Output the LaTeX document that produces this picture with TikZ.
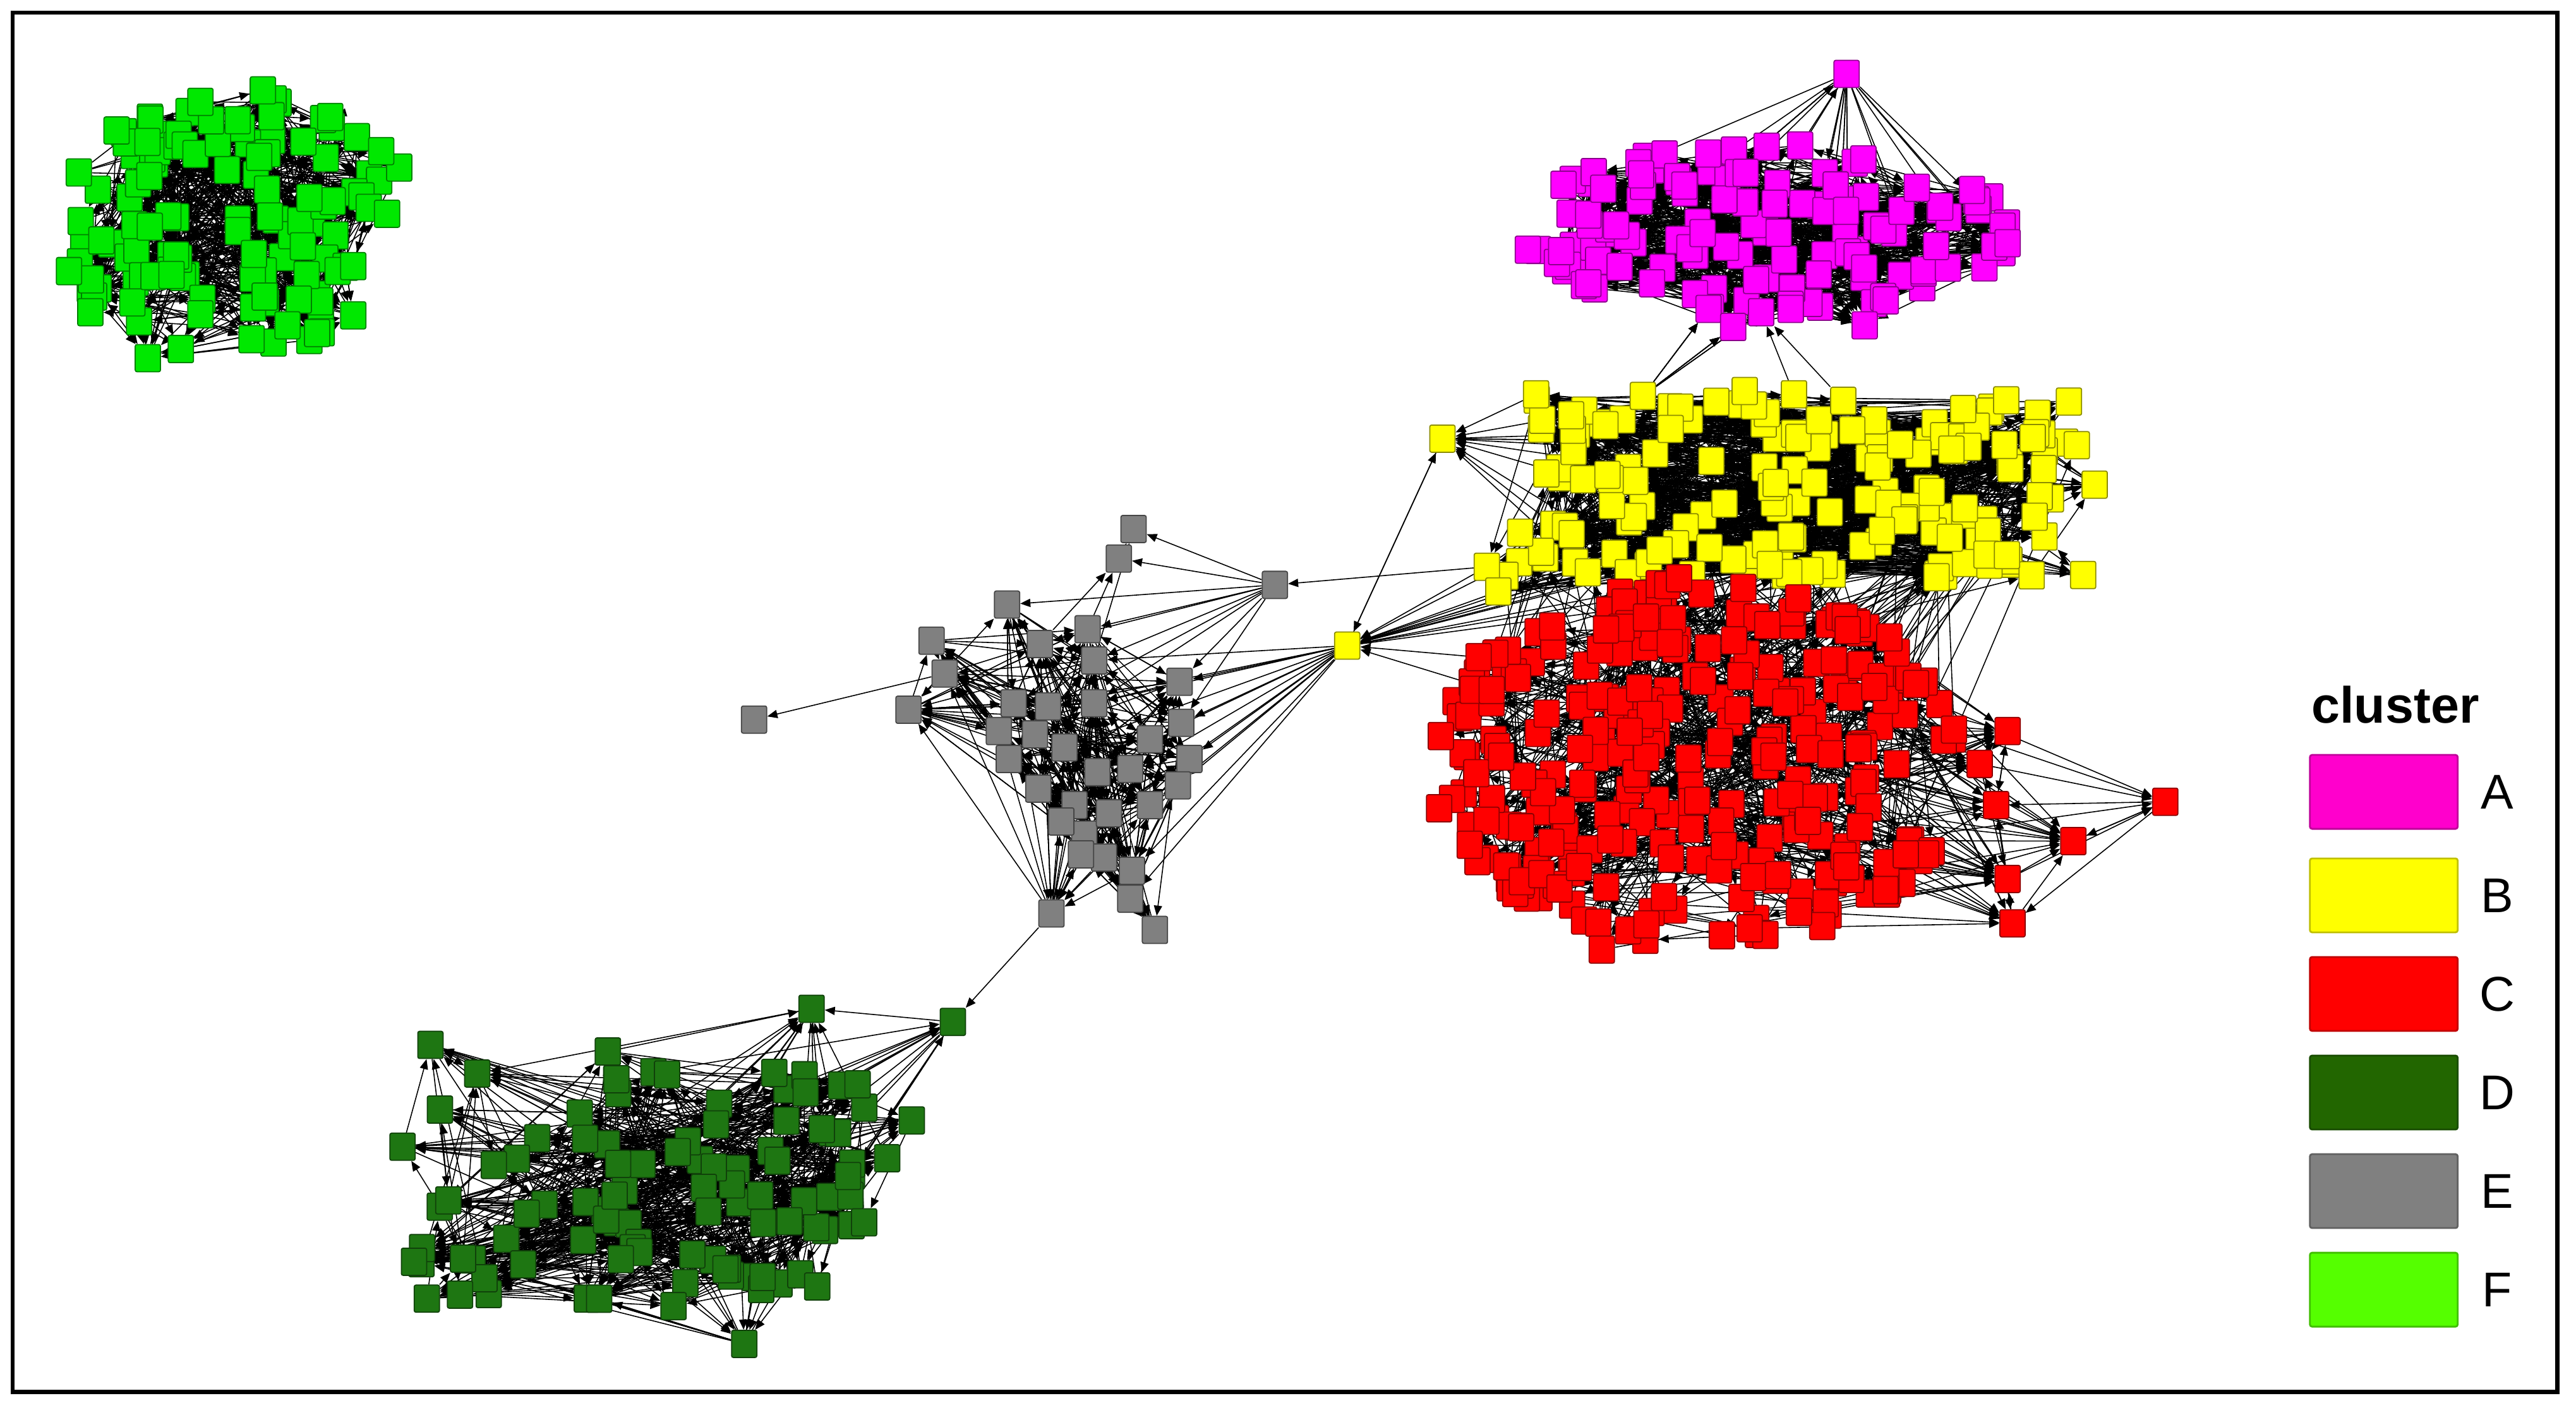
\documentclass[tikz,border=0pt]{standalone}
\usepackage{fontspec}
\newfontfamily\lsans{Liberation Sans}
\usetikzlibrary{arrows.meta}
\pgfdeclarelayer{edgelayer}
\pgfsetlayers{edgelayer,main}
\definecolor{cA}{RGB}{255,0,255}
\definecolor{cB}{RGB}{255,255,0}
\definecolor{cC}{RGB}{255,0,0}
\definecolor{cD}{RGB}{30,118,18}
\definecolor{cE}{RGB}{128,128,128}
\definecolor{cF}{RGB}{0,232,0}
\definecolor{lA}{RGB}{255,0,204}
\definecolor{lB}{RGB}{255,255,0}
\definecolor{lC}{RGB}{255,0,0}
\definecolor{lD}{RGB}{34,102,0}
\definecolor{lE}{RGB}{128,128,128}
\definecolor{lF}{RGB}{85,255,0}
% random blob: uniform square mapped onto an ellipse
\newcommand\mkcluster[8]{%
  \pgfmathsetseed{#8}%
  \foreach \i in {1,...,#3}{%
    \pgfmathsetmacro\ru{2*rnd-1}%
    \pgfmathsetmacro\rv{2*rnd-1}%
    \pgfmathsetmacro\px{#4+#6*\ru*sqrt(1-\rv*\rv/2)}%
    \pgfmathsetmacro\py{#5+#7*\rv*sqrt(1-\ru*\ru/2)}%
    \node[#2] (#1-\i) at (\px,\py) {};
  }}
% random cluster in a slanted band: name style n x0 y0 x1 y1 seed slant
\newcommand\mkrect[9]{%
  \pgfmathsetseed{#8}%
  \foreach \i in {1,...,#3}{%
    \pgfmathsetmacro\py{#5+(#7-#5)*rnd}%
    \pgfmathsetmacro\px{#4+(#6-#4)*rnd-#9*(\py-#5)}%
    \node[#2] (#1-\i) at (\px,\py) {};
  }}
% random links between two index ranges
\newcommand\mklinks[8]{%
  \pgfmathsetseed{#8}%
  \foreach \k in {1,...,#7}{%
    \pgfmathtruncatemacro\ea{#2+floor(rnd*(#3-#2+1))}%
    \pgfmathtruncatemacro\eb{#5+floor(rnd*(#6-#5+1))}%
    \ifnum\ea=\eb\else\draw[edge] (#1-\ea) -- (#4-\eb);\fi
  }}
\begin{document}
\begin{tikzpicture}[x=0.026008cm,y=-0.026008cm,
  vtx/.style={rectangle,rounded corners=0.8pt,minimum width=0.40cm,minimum height=0.43cm,inner sep=0pt,line width=0.5pt},
  vA/.style={vtx,fill=cA,draw=cA!55!black},
  vB/.style={vtx,fill=cB,draw=cB!55!black},
  vC/.style={vtx,fill=cC,draw=cC!55!black},
  vD/.style={vtx,fill=cD,draw=cD!55!black},
  vE/.style={vtx,fill=cE,draw=cE!55!black},
  vF/.style={vtx,fill=cF,draw=cF!55!black},
  edge/.style={draw=black,line width=0.45pt,-{Triangle[length=1.6mm,width=1.3mm]}},
  legbox/.style={rectangle,rounded corners=1pt,minimum width=2.34cm,minimum height=1.17cm,inner sep=0pt,line width=0.8pt},
  legtxt/.style={font=\lsans\fontsize{22}{26}\selectfont,inner sep=0pt}]
\useasboundingbox (0,0) rectangle (1568,861);
\draw[line width=0.065cm] (7.7,7.7) rectangle (1556.7,847.2);

% ---------- cluster F ----------
\mkcluster{F}{vF}{110}{142}{137}{100}{82}{11}
\foreach \p [count=\i from 111] in {(160,55),(122,62),(48,105),(42,165),(90,218),(175,198),(243,102),(232,92),(215,162),(55,190)}
  \node[vF] (F-\i) at \p {};
% ---------- cluster A ----------
\mkcluster{A}{vA}{120}{1077}{140}{148}{52}{22}
\foreach \p [count=\i from 121] in {(1124,45),(930,152),(1222,148),(1040,188),(1055,199),(1072,190),(1090,188),(1135,198)}
  \node[vA] (A-\i) at \p {};
% ---------- cluster B ----------
\mkrect{B}{vB}{150}{935}{243}{1272}{352}{33}{0.2}
\foreach \p [count=\i from 151] in {(878,267),(820,393),(905,345),(912,360),(1275,295),(1268,350),(935,240),(1000,241),(1062,238),(1092,240),(1122,244)}
  \node[vB] (B-\i) at \p {};
% ---------- cluster C ----------
\mkcluster{C}{vC}{270}{1035}{466}{160}{112}{44}
\foreach \p [count=\i from 271] in {(876,492),(877,448),(900,400),(975,578),(1065,565),(1095,555),(1150,388),(1022,352),(1205,465),(1222,445),(1215,490),(1262,512),(1318,488),(1222,535),(1225,562),(1160,520),(908,420)}
  \node[vC] (C-\i) at \p {};
% ---------- cluster E ----------
\foreach \p [count=\i] in {(690,322),(681,340),(776,356),(613,368),(567,390),(575,410),(553,432),(633,392),(662,383),(666,402),(617,428),(638,430),(666,428),(718,415),(719,440),(724,462),(717,478),(648,455),(614,462),(632,480),(654,490),(660,508),(672,522),(689,530),(640,556),(703,566),(688,547),(658,520),(646,500),(675,495),(700,490),(608,445),(630,447),(700,450),(688,468),(668,470),(459,438)}
  \node[vE] (E-\i) at \p {};
% ---------- cluster D ----------
\mkrect{D}{vD}{88}{262}{652}{530}{792}{55}{0.05}
\foreach \p [count=\i from 89] in {(262,636),(370,640),(494,614),(580,622),(555,682),(526,744),(453,818),(252,768),(245,698),(280,788),(410,795),(522,660),(540,705)}
  \node[vD] (D-\i) at \p {};

% ---------- edges ----------
\begin{pgfonlayer}{edgelayer}
\mklinks{F}{1}{120}{F}{1}{120}{700}{101}
\mklinks{A}{1}{128}{A}{1}{128}{700}{102}
\mklinks{A}{121}{121}{A}{1}{120}{14}{103}
\mklinks{A}{1}{120}{A}{124}{128}{70}{104}
\mklinks{B}{158}{161}{A}{124}{128}{10}{105}
\mklinks{B}{1}{161}{B}{1}{161}{1100}{106}
\mklinks{C}{1}{287}{C}{1}{287}{500}{107}
\mklinks{C}{1}{270}{B}{1}{150}{150}{108}
\mklinks{C}{1}{270}{C}{279}{285}{50}{109}
\mklinks{C}{279}{285}{C}{279}{285}{20}{110}
\draw[edge] (C-275) -- (C-285);
\draw[edge] (C-274) -- (C-284);
\mklinks{E}{4}{36}{E}{4}{36}{380}{111}
\foreach \t in {1,2,8,9,10,13,12,4,14,15} \draw[edge] (E-3) -- (E-\t);
\draw[edge] (E-10) -- (E-1);
\draw[edge] (E-9) -- (E-2);
\draw[edge] (E-8) -- (E-2);
\draw[edge] (E-2) -- (E-1);
\foreach \t in {14,15,16,17,13,10,18,21,24,27,31,30,12,34} \draw[edge] (B-152) -- (E-\t);
\draw[edge] (B-153) -- (B-152);
\draw[edge] (B-154) -- (B-152);
\draw[edge] (C-273) -- (B-152);
\draw[edge] (C-287) -- (B-152);
\draw[edge] (B-151) -- (B-152);
\draw[edge] (B-153) -- (E-3);
\draw[edge] (E-6) -- (E-37);
\draw[edge] (E-25) -- (D-92);
\mklinks{D}{1}{101}{D}{1}{101}{700}{112}
\end{pgfonlayer}

% ---------- legend ----------
\node[font=\lsans\bfseries\fontsize{23}{27}\selectfont,inner sep=0pt] (legtitle) at (1458,429) {cluster};
\foreach \c/\l/\y in {lA/A/482,lB/B/545,lC/C/605,lD/D/665,lE/E/725,lF/F/785} {
  \node[legbox,fill=\c,draw=\c!75!black] (key\l) at (1451,\y) {};
  \node[legtxt] (lab\l) at (1520,\y) {\l};
}
\end{tikzpicture}
\end{document}
